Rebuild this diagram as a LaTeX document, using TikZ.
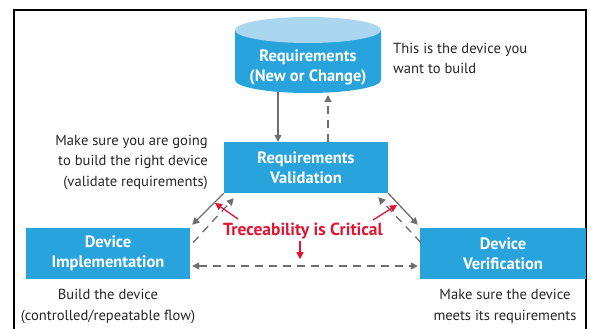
\documentclass[tikz,border=0pt]{standalone}
\usepackage{fontspec}
\setmainfont{PT Sans}
\usetikzlibrary{arrows.meta,calc}
\definecolor{boxblue}{RGB}{41,163,220}
\definecolor{topblue}{RGB}{170,214,240}
\definecolor{arrowgrey}{RGB}{110,110,110}
\definecolor{critred}{RGB}{225,20,50}
\begin{document}
\begin{tikzpicture}[x=1pt,y=-1pt,
  boxfont/.style={text=white, font=\fontsize{16.5}{20}\selectfont\bfseries, align=center, inner sep=0pt},
  bluebox/.style={boxfont, fill=boxblue, minimum height=51pt},
  note/.style={font=\fontsize{14.6}{20.5}\selectfont, text=black!85, inner sep=0pt},
  flow/.style={draw=arrowgrey, line width=1.3pt, -{Triangle[length=7pt,width=7pt]}},
  back/.style={flow, dash pattern=on 8pt off 6pt},
  redarrow/.style={draw=critred, line width=1.3pt, -{Triangle[length=7pt,width=7pt]}}]
\useasboundingbox (0,0) rectangle (589,329);
\clip (0,0) rectangle (589,329);

% outer frame (open at the bottom edge of the page)
\draw[line width=1.5pt] (14,335) -- (14,10) -- (586,10) -- (586,335);

% requirements store drawn as a cylinder
\fill[boxblue] (235,30) -- (235,80) arc[start angle=180,end angle=0,x radius=73,y radius=13] -- (381,30) -- cycle;
\fill[topblue] (308,30) ellipse[x radius=73,y radius=13];
\coordinate (reqbase) at (308,93);
\node[boxfont] (req) at (308,67) {Requirements\\(New or Change)};

% process boxes
\node[bluebox, minimum width=164pt] (reqval) at (306,167.5) {Requirements\\Validation};
\node[bluebox, minimum width=164pt] (impl) at (108,253.5) {Device\\Implementation};
\node[bluebox, minimum width=166pt] (verif) at (503,253.5) {Device\\Verification};

% side notes
\node[note, align=left, anchor=west] (n1) at (393,58.5) {This is the device you\\want to build};
\node[note, align=right, anchor=east] (n2) at (208,162) {Make sure you are going\\to build the right device\\(validate requirements)};
\node[note, align=center] (n3) at (108,306.5) {Build the device\\(controlled/repeatable flow)};
\node[note, align=center] (n4) at (505,306.5) {Make sure the device\\meets its requirements};

% flow between requirements and validation
\draw[flow] ($(reqbase)+(-30,-1)$) -- ($(reqval.north)+(-28,0)$);
\draw[back] ($(reqval.north)+(22,0)$) -- ($(reqbase)+(20,2)$);

% validation to implementation / verification
\draw[flow] (reqval.south west) -- ($(impl.north east)+(2,-3)$);
\draw[back] ($(impl.east)+(3,-11)$) -- ($(reqval.south west)+(10,5)$);
\draw[flow] (reqval.south east) -- ($(verif.north west)+(-2,-3)$);
\draw[back] ($(verif.west)+(1,-11)$) -- ($(reqval.south east)+(-10,4)$);
\draw[back, {Triangle[length=7pt,width=7pt]}-{Triangle[length=7pt,width=7pt]}]
  ($(impl.east)+(2,12.5)$) -- ($(verif.west)+(-2,12.5)$);

% traceability callout
\node[text=critred, font=\fontsize{17.5}{20}\selectfont\bfseries, inner sep=0pt] (crit) at (303,231) {Treceability is Critical};
\draw[redarrow] ($(crit.center)+(-65,-12)$) -- ($(crit.center)+(-88,-28)$);
\draw[redarrow] ($(crit.center)+(70,-11)$) -- ($(crit.center)+(94,-26)$);
\draw[redarrow] ($(crit.south)+(-3,2)$) -- ($(crit.south)+(-3,20)$);
\end{tikzpicture}
\end{document}
